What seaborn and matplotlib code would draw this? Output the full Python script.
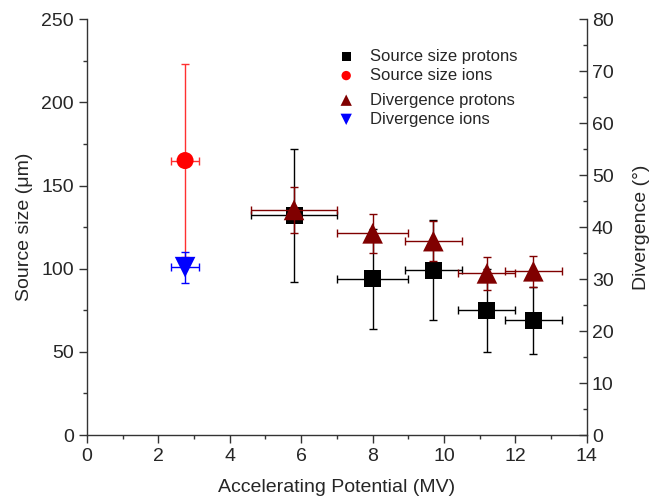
import matplotlib
matplotlib.use("Agg")
import matplotlib.pyplot as plt
import seaborn as sns
from matplotlib.ticker import MultipleLocator

# protons
x_p = [5.8, 8.0, 9.7, 11.2, 12.5]
x_p_err = [1.2, 1.0, 0.8, 0.8, 0.8]
size_p = [132, 94, 99, 75, 69]
size_p_err = [40, 30, 30, 25, 20]
div_p = [43.3, 38.8, 37.3, 31.1, 31.5]
div_p_err = [4.5, 3.8, 3.8, 3.1, 3.0]

# ions
x_i = [2.75]
x_i_err = [0.4]
size_i = [165]
size_i_err = [58]
div_i = [32.3]
div_i_err = [3.0]

sns.set_style("ticks")
plt.rcParams['font.family'] = ['Liberation Sans', 'DejaVu Sans']
plt.rcParams['axes.linewidth'] = 1.0

fig = plt.figure(figsize=(6.58, 5.03), dpi=100)
ax = fig.add_axes([0.132, 0.135, 0.760, 0.827])
ax2 = ax.twinx()

# source size (left axis)
ax.errorbar(x_p, size_p, xerr=x_p_err, yerr=size_p_err, fmt='none', ecolor='black',
            elinewidth=1, capsize=3, capthick=1, zorder=2)
sns.scatterplot(x=x_p, y=size_p, marker='s', color='black', s=150, edgecolor='none',
                ax=ax, zorder=3, label='Source size protons', legend=False)
ax.errorbar(x_i, size_i, xerr=x_i_err, yerr=size_i_err, fmt='none', ecolor='#ff3030',
            elinewidth=1, capsize=3, capthick=1, zorder=2)
sns.scatterplot(x=x_i, y=size_i, marker='o', color='red', s=150, edgecolor='none',
                ax=ax, zorder=3, label='Source size ions', legend=False)

# divergence (right axis)
ax2.errorbar(x_p, div_p, xerr=x_p_err, yerr=div_p_err, fmt='none', ecolor='#800000',
             elinewidth=1, capsize=3, capthick=1, zorder=2)
sns.scatterplot(x=x_p, y=div_p, marker='^', color='#800000', s=220, edgecolor='none',
                ax=ax2, zorder=3, label='Divergence protons', legend=False)
ax2.errorbar(x_i, div_i, xerr=x_i_err, yerr=div_i_err, fmt='none', ecolor='blue',
             elinewidth=1, capsize=3, capthick=1, zorder=2)
sns.scatterplot(x=x_i, y=div_i, marker='v', color='blue', s=220, edgecolor='none',
                ax=ax2, zorder=3, label='Divergence ions', legend=False)

ax.set_xlim(0, 14)
ax.set_ylim(0, 250)
ax2.set_ylim(0, 80)
ax.xaxis.set_major_locator(MultipleLocator(2))
ax.xaxis.set_minor_locator(MultipleLocator(1))
ax.yaxis.set_major_locator(MultipleLocator(50))
ax.yaxis.set_minor_locator(MultipleLocator(25))
ax2.yaxis.set_major_locator(MultipleLocator(10))
ax2.yaxis.set_minor_locator(MultipleLocator(5))

for a in (ax, ax2):
    a.tick_params(which='major', length=6, width=1, labelsize=14, color='#333333')
    a.tick_params(which='minor', length=3, width=1, color='#333333')
    a.spines['top'].set_visible(False)
    a.set_ylabel('')
ax2.tick_params(axis='y', which='both', direction='in')
ax.spines['right'].set_visible(False)
ax2.spines['left'].set_visible(False)
ax2.spines['bottom'].set_visible(False)
for s in ('left', 'bottom'):
    ax.spines[s].set_color('#333333')
ax2.spines['right'].set_color('#333333')

ax.set_xlabel('Accelerating Potential (MV)', fontsize=14, labelpad=10)
ax.set_ylabel('Source size (μm)', fontsize=14, labelpad=6)
ax2.set_ylabel('Divergence (°)', fontsize=14, labelpad=14)

h1, l1 = ax.get_legend_handles_labels()
h2, l2 = ax2.get_legend_handles_labels()
leg_kw = dict(loc='upper left', bbox_transform=fig.transFigure, frameon=False,
              fontsize=12, markerscale=0.55, handlelength=0.8, handletextpad=1.0,
              labelspacing=0.25, borderpad=0, borderaxespad=0)
leg1 = ax2.legend(h1, l1, bbox_to_anchor=(0.516, 0.903), **leg_kw)
ax2.add_artist(leg1)
ax2.legend(h2, l2, bbox_to_anchor=(0.516, 0.816), **leg_kw)

fig.savefig('out.png', dpi=100)
